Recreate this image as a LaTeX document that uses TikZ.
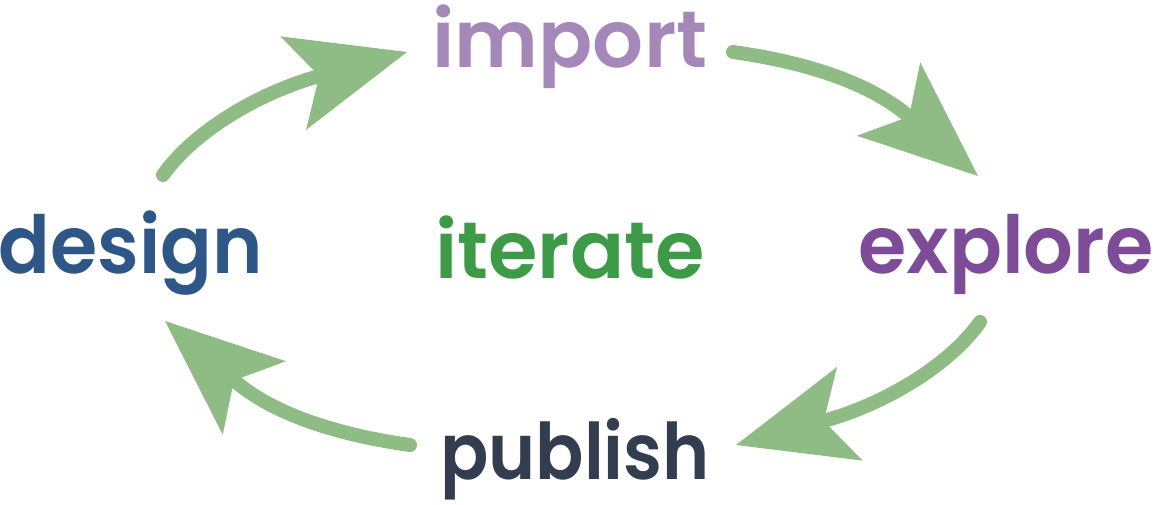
\documentclass[tikz,border=0pt]{standalone}
\usepackage{fontspec}
\newfontfamily\wordfont{Poppins SemiBold}
\usetikzlibrary{arrows.meta}
\definecolor{arrowgreen}{RGB}{143,187,133}
\definecolor{importcol}{RGB}{165,136,186}
\definecolor{explorecol}{RGB}{125,75,152}
\definecolor{designcol}{RGB}{46,87,135}
\definecolor{iteratecol}{RGB}{61,155,72}
\definecolor{publishcol}{RGB}{50,62,80}
% word set narrower or wider by a factor
\newcommand{\squeezed}[2]{\scalebox{#1}[1]{#2}}
\begin{document}
\begin{tikzpicture}[x=1pt,y=-1pt,
  cyclearrow/.style={draw=arrowgreen, line width=14pt, line cap=round,
    -{Stealth[length=118pt,width=97pt,inset=27pt,line width=0pt]}},
  word/.style={font=\wordfont\fontsize{80}{80}\selectfont, anchor=base, inner sep=0pt}]
\useasboundingbox (0,0) rectangle (1154,505);

% the five stage words
\node[word, text=importcol]  (import)  at (570,68)  {\squeezed{1.0}{import}};
\node[word, text=explorecol] (explore) at (1006,273) {\squeezed{0.977}{explore}};
\node[word, text=designcol]  (design)  at (131,273) {\squeezed{0.955}{design}};
\node[word, text=iteratecol] (iterate) at (570,278) {\squeezed{1.0}{iterate}};
\node[word, text=publishcol] (publish) at (575,479) {\squeezed{0.915}{\fontsize{78}{78}\selectfont publish}};

% design -> import
\coordinate (a1s) at (163,175);
\coordinate (a1c) at (195,130);
\coordinate (a1d) at (261,92);
\coordinate (a1t) at (407,52);
\draw[cyclearrow] (a1s) .. controls (a1c) and (a1d) .. (a1t);

% import -> explore
\coordinate (a2s) at (733,52);
\coordinate (a2c) at (790,60);
\coordinate (a2d) at (863.5,77.4);
\coordinate (a2t) at (978,176);
\draw[cyclearrow] (a2s) .. controls (a2c) and (a2d) .. (a2t);

% explore -> publish
\coordinate (a3s) at (980,322);
\coordinate (a3c) at (948,367);
\coordinate (a3d) at (882,405);
\coordinate (a3t) at (736,445);
\draw[cyclearrow] (a3s) .. controls (a3c) and (a3d) .. (a3t);

% publish -> design
\coordinate (a4s) at (410,445);
\coordinate (a4c) at (353,437);
\coordinate (a4d) at (279.5,419.6);
\coordinate (a4t) at (165,321);
\draw[cyclearrow] (a4s) .. controls (a4c) and (a4d) .. (a4t);
\end{tikzpicture}
\end{document}
